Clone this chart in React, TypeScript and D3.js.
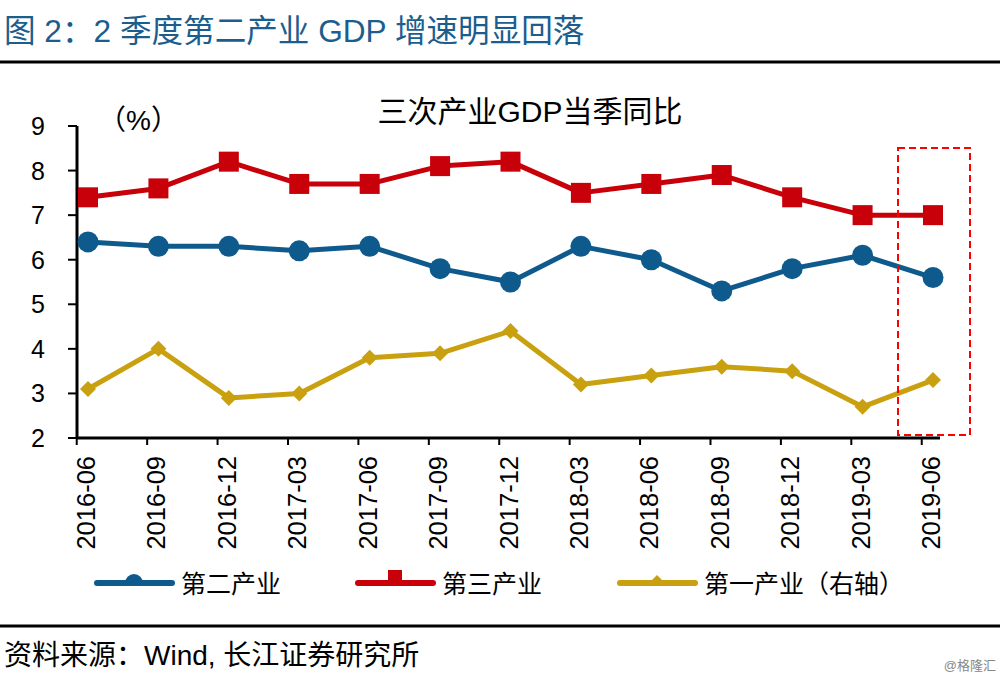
import React from "react";
import * as d3 from "d3";

const categories = ["2016-06","2016-09","2016-12","2017-03","2017-06","2017-09","2017-12","2018-03","2018-06","2018-09","2018-12","2019-03","2019-06"];
const secondary = [6.4, 6.3, 6.3, 6.2, 6.3, 5.8, 5.5, 6.3, 6.0, 5.3, 5.8, 6.1, 5.6];
const tertiary = [7.4, 7.6, 8.2, 7.7, 7.7, 8.1, 8.2, 7.5, 7.7, 7.9, 7.4, 7.0, 7.0];
const primary = [3.1, 4.0, 2.9, 3.0, 3.8, 3.9, 4.4, 3.2, 3.4, 3.6, 3.5, 2.7, 3.3];
const yTicks = [2, 3, 4, 5, 6, 7, 8, 9];

const BLUE = "#0f5a8c";
const RED = "#c8000a";
const GOLD = "#c9a00f";
const SANS = "'Liberation Sans', Arial, 'Noto Sans CJK SC', sans-serif";

export default function App() {
  const W = 1000, H = 684;
  const x = d3.scalePoint<string>().domain(categories).range([88, 933]);
  const y = d3.scaleLinear().domain([2, 9]).range([438, 126]);
  const step = x.step();
  const line = d3.line<number>().x((_, i) => x(categories[i])!).y((d) => y(d));

  const diamond = (cx: number, cy: number, r: number) =>
    `M${cx},${cy - r}L${cx + r},${cy}L${cx},${cy + r}L${cx - r},${cy}Z`;

  const legendItems = [
    { label: "第二产业", color: BLUE, x0: 97, kind: "circle" },
    { label: "第三产业", color: RED, x0: 358, kind: "square" },
    { label: "第一产业（右轴）", color: GOLD, x0: 620, kind: "diamond" },
  ];
  const ly = 583;

  return (
    <svg width={W} height={H} style={{ position: "absolute", left: 0, top: 0, background: "#fff" }}>
      <rect width={W} height={H} fill="#fff" />
      <defs>
        <clipPath id="legclip">
          <rect x={0} y={0} width={W} height={ly + 2} />
        </clipPath>
      </defs>
      {/* Header */}
      <text x={4} y={42} fontSize={31.6} fill="#1b5e8e" fontFamily={SANS}>图 2：2 季度第二产业 GDP 增速明显回落</text>
      <line x1={0} x2={1000} y1={62} y2={62} stroke="#000" strokeWidth={3} />

      {/* Chart title */}
      <text x={530} y={122} fontSize={30} textAnchor="middle" fill="#000" fontFamily={SANS}>三次产业GDP当季同比</text>
      <text x={98} y={130} fontSize={28} fill="#000" fontFamily={SANS}>（%）</text>

      {/* Y axis */}
      <line x1={77} x2={77} y1={y(9)} y2={y(2)} stroke="#000" strokeWidth={3} />
      {yTicks.map((t) => (
        <g key={t}>
          <line x1={68} x2={77} y1={y(t)} y2={y(t)} stroke="#000" strokeWidth={2} />
          <text x={45} y={y(t) + 9} fontSize={25} textAnchor="end" fontFamily={SANS} fill="#000">{t}</text>
        </g>
      ))}

      {/* X axis */}
      <line x1={76} x2={940} y1={y(2)} y2={y(2)} stroke="#000" strokeWidth={3} />
      {categories.map((c) => {
        const cx = x(c)!;
        const tx = cx - step * 0.16;
        return (
          <g key={c}>
            <line x1={tx} x2={tx} y1={y(2)} y2={y(2) + 7} stroke="#000" strokeWidth={2} />
            <text
              transform={`translate(${cx + 7},${y(2) + 18}) rotate(-90)`}
              fontSize={25.5}
              textAnchor="end"
              fontFamily={SANS}
              fill="#000"
            >{c}</text>
          </g>
        );
      })}

      {/* Series lines */}
      <path d={line(primary)!} fill="none" stroke={GOLD} strokeWidth={5} strokeLinejoin="round" />
      <path d={line(secondary)!} fill="none" stroke={BLUE} strokeWidth={5} strokeLinejoin="round" />
      <path d={line(tertiary)!} fill="none" stroke={RED} strokeWidth={5} strokeLinejoin="round" />

      {primary.map((v, i) => (
        <path key={"p" + i} d={diamond(x(categories[i])!, y(v), 8)} fill={GOLD} />
      ))}
      {secondary.map((v, i) => (
        <circle key={"s" + i} cx={x(categories[i])!} cy={y(v)} r={10.5} fill={BLUE} />
      ))}
      {tertiary.map((v, i) => (
        <rect key={"t" + i} x={x(categories[i])! - 10} y={y(v) - 10} width={20} height={20} fill={RED} />
      ))}

      {/* Highlight box */}
      <rect x={898} y={148} width={72} height={287} fill="none" stroke="#ff0000" strokeWidth={2} strokeDasharray="7,4" />

      {/* Legend */}
      {legendItems.map((it) => (
        <g key={it.label}>
          <line x1={it.x0} x2={it.x0 + 75} y1={ly} y2={ly} stroke={it.color} strokeWidth={6} strokeLinecap="round" />
          <g clipPath="url(#legclip)">
            {it.kind === "circle" && <circle cx={it.x0 + 37} cy={ly} r={9} fill={it.color} />}
            {it.kind === "square" && <rect x={it.x0 + 30} y={ly - 13} width={14} height={16} fill={it.color} />}
            {it.kind === "diamond" && <path d={diamond(it.x0 + 37, ly, 8)} fill={it.color} />}
          </g>
          <text x={it.x0 + 84} y={ly + 10} fontSize={25} fontFamily={SANS} fill="#000">{it.label}</text>
        </g>
      ))}

      {/* Footer */}
      <line x1={0} x2={1000} y1={626} y2={626} stroke="#000" strokeWidth={3} />
      <text x={4} y={665} fontSize={28} fontFamily={SANS} fill="#000">资料来源：Wind, 长江证券研究所</text>
      <text x={996} y={670} fontSize={13} textAnchor="end" fontFamily={SANS} fill="#888">@格隆汇</text>
    </svg>
  );
}
